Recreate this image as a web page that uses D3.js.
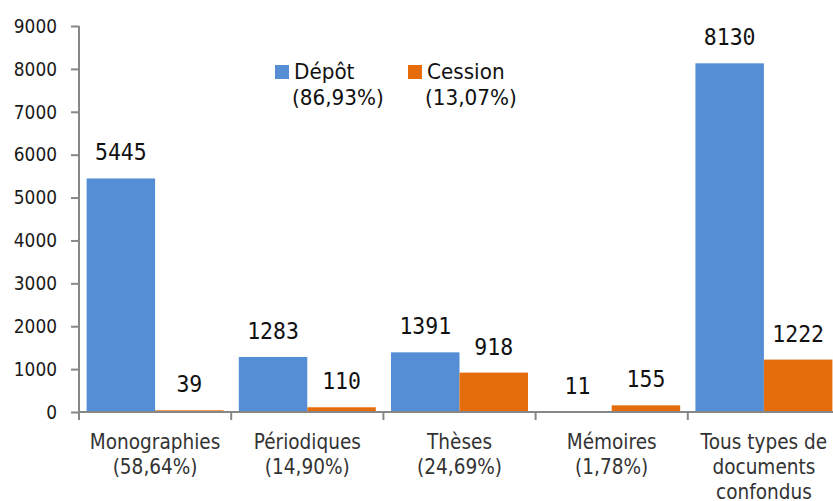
<!DOCTYPE html>
<html>
<head>
<meta charset="utf-8">
<script src="https://cdn.jsdelivr.net/npm/d3@7"></script>
<style>
  body { margin: 0; background: #fff; }
  svg { display: block; }
</style>
</head>
<body>
<svg width="833" height="501"></svg>
<script>
// Chart data
var categories = ["Monographies", "Périodiques", "Thèses", "Mémoires", "Tous types de documents confondus"];
var categoryLines = [
    ["Monographies", "(58,64%)"],
    ["Périodiques", "(14,90%)"],
    ["Thèses", "(24,69%)"],
    ["Mémoires", "(1,78%)"],
    ["Tous types de", "documents", "confondus"]
];
var seriesNames = ["Dépôt", "Cession"];
var seriesShares = ["(86,93%)", "(13,07%)"];
var depot = [5445, 1283, 1391, 11, 8130];
var cession = [39, 110, 918, 155, 1222];
var yTicks = [0, 1000, 2000, 3000, 4000, 5000, 6000, 7000, 8000, 9000];

var colors = ["#558ED5", "#E46C0A"];

var svg = d3.select("svg");
// note: "top" is taken by window.top, so use plot* names
var plotLeft = 79, plotTop = 26, plotBottom = 412;
var step = 152.2;
// the original text is a bit stretched vertically
var stretch = 1.15;

var y = d3.scaleLinear().domain([0, 9000]).range([plotBottom, plotTop]);
var x = d3.scaleBand().domain(categories)
    .range([plotLeft, plotLeft + step * categories.length])
    .paddingInner(0.1).paddingOuter(0.05);
var xs = d3.scaleBand().domain(seriesNames).range([0, x.bandwidth()]);

// Bars
var series = [depot, cession];
series.forEach(function(vals, s) {
    svg.append("g").selectAll("rect")
        .data(vals)
        .enter().append("rect")
        .attr("x", function(d, i) { return x(categories[i]) + xs(seriesNames[s]); })
        .attr("y", function(d) { return y(d); })
        .attr("width", xs.bandwidth())
        .attr("height", function(d) { return y(0) - y(d); })
        .attr("fill", colors[s]);

    // Value labels
    svg.append("g").selectAll("text")
        .data(vals)
        .enter().append("text")
        .attr("transform", function(d, i) {
            var cx = x(categories[i]) + xs(seriesNames[s]) + xs.bandwidth() / 2;
            return "translate(" + cx + "," + (y(d) - 18) + ") scale(1,1.08)";
        })
        .attr("text-anchor", "middle")
        .attr("font-family", "DejaVu Sans Mono, monospace")
        .attr("font-size", 21.5)
        .attr("fill", "#111")
        .text(function(d) { return d; });
});

// Y axis
var yAxis = svg.append("g")
    .attr("transform", "translate(" + plotLeft + ",0)")
    .call(d3.axisLeft(y).tickValues(yTicks).tickSize(8).tickPadding(14).tickFormat(d3.format("d")));
yAxis.select(".domain").attr("stroke", "#878787").attr("stroke-width", 2).attr("d", "M0," + plotTop + "V" + plotBottom);
yAxis.selectAll(".tick line").attr("stroke", "#878787").attr("stroke-width", 2);
yAxis.selectAll(".tick text")
    .attr("transform", "scale(1," + stretch + ")")
    .attr("font-family", "DejaVu Sans, Verdana, sans-serif")
    .attr("font-size", 17)
    .attr("fill", "#1a1a1a");

// X axis
svg.append("line")
    .attr("x1", plotLeft).attr("x2", 833)
    .attr("y1", plotBottom).attr("y2", plotBottom)
    .attr("stroke", "#878787").attr("stroke-width", 2);
svg.append("g").selectAll("line")
    .data(d3.range(categories.length + 1))
    .enter().append("line")
    .attr("x1", function(i) { return plotLeft + i * x.step(); })
    .attr("x2", function(i) { return plotLeft + i * x.step(); })
    .attr("y1", plotBottom).attr("y2", plotBottom + 8)
    .attr("stroke", "#878787").attr("stroke-width", 2);

// Category labels
var cat = svg.append("g").selectAll("text")
    .data(categoryLines)
    .enter().append("text")
    .attr("transform", function(d, i) {
        return "translate(" + (x(categories[i]) + x.bandwidth() / 2) + ",449) scale(1," + stretch + ")";
    })
    .attr("text-anchor", "middle")
    .attr("font-family", "DejaVu Sans, Verdana, sans-serif")
    .attr("font-size", 18.5)
    .attr("fill", "#333");
cat.each(function(lines) {
    var t = d3.select(this);
    lines.forEach(function(l, k) {
        t.append("tspan").attr("x", 0).attr("y", k * 25 / stretch).text(l);
    });
});

// Legend
var legendX = [275, 408];
seriesNames.forEach(function(name, s) {
    var g = svg.append("g").attr("transform", "translate(" + legendX[s] + ",0)");
    g.append("rect").attr("x", 0).attr("y", 65).attr("width", 14).attr("height", 14).attr("fill", colors[s]);
    g.append("text").attr("transform", "translate(19,79) scale(1,1.05)")
        .attr("font-family", "DejaVu Sans, Verdana, sans-serif").attr("font-size", 20)
        .attr("fill", "#111").text(name);
    g.append("text").attr("transform", "translate(17,105) scale(1,1.05)")
        .attr("font-family", "DejaVu Sans, Verdana, sans-serif").attr("font-size", 20)
        .attr("fill", "#111").text(seriesShares[s]);
});
</script>
</body>
</html>
